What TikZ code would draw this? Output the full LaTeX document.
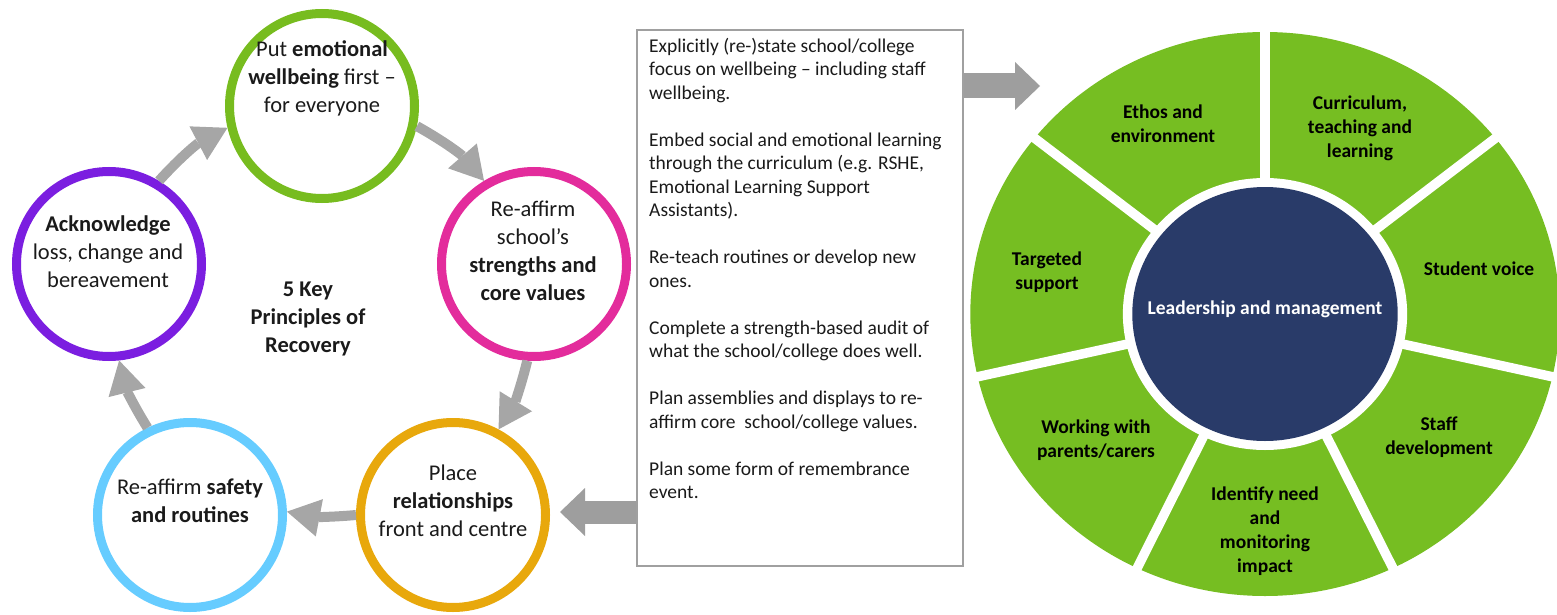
\documentclass[tikz,border=0pt]{standalone}
\usepackage{fontspec}
\setmainfont{Carlito}
\usetikzlibrary{arrows.meta}
\definecolor{cgreen}{HTML}{77BC1F}
\definecolor{cpink}{HTML}{E32C9C}
\definecolor{corange}{HTML}{E8A80C}
\definecolor{ccyan}{HTML}{66CCFF}
\definecolor{cpurple}{HTML}{7B1EE0}
\definecolor{wgreen}{HTML}{76BE22}
\definecolor{navy}{HTML}{293B69}
\definecolor{arrgray}{HTML}{A6A6A6}
\definecolor{blkgray}{HTML}{9E9E9E}
\definecolor{boxline}{HTML}{A0A0A0}
\definecolor{txt}{HTML}{1A1A1A}
\begin{document}
\begin{tikzpicture}[x=1pt,y=1pt,
  ring/.style={circle, draw=#1, line width=9pt, minimum size=185pt, inner sep=0pt},
  ctext/.style={align=center, text=txt, font=\fontsize{22.5}{28}\selectfont, inner sep=0pt,
    execute at begin node=\strut, execute at end node=\strut},
  wtext/.style={align=center, text=black, font=\fontsize{19.5}{24}\selectfont\bfseries, inner sep=0pt,
    execute at begin node=\strut, execute at end node=\strut},
  btext/.style={align=left, text=txt, font=\fontsize{19.5}{23.5}\selectfont, inner sep=0pt,
    anchor=north west, execute at begin node=\strut},
  cyc/.style={line width=10pt, draw=arrgray, -{Triangle[length=33pt, width=38pt, line width=0pt]}},
  blk/.style={line width=#1, draw=blkgray, -{Triangle[length=25pt, width=48pt, line width=0pt]}},
]
\useasboundingbox (0,0) rectangle (1557,-615);

% ---------- wheel ----------
\begin{scope}[shift={(1265,-314)}, xscale=1.045]
  \fill[wgreen] (0,0) circle (282);
  \fill[white] (0,0) circle (136);
  \foreach \k in {0,...,6}
    \draw[white, line width=9.5pt] (90+\k*360/7:120) -- (90+\k*360/7:292);
  \fill[navy] (0,0) circle (127);
\end{scope}
\node[wtext, text=white] (lead) at (1265,-310) {Leadership and management};
\node[wtext] (ethos) at (1163,-127) {Ethos and\\environment};
\node[wtext] (curr) at (1360,-130) {Curriculum,\\teaching and\\learning};
\node[wtext] (voice) at (1479,-271) {Student voice};
\node[wtext] (staff) at (1439,-439.5) {Staff\\development};
\node[wtext] (ident) at (1265,-533.5) {Identify need\\and\\monitoring\\impact};
\node[wtext] (work) at (1096,-442.5) {Working with\\parents/carers};
\node[wtext] (target) at (1047,-274) {Targeted\\support};

% ---------- cycle ----------
\node[ring=cgreen] (green) at (322,-106) {};
\node[ring=cpink] (pink) at (534,-264) {};
\node[ring=corange] (orange) at (453,-515) {};
\node[ring=ccyan] (cyan) at (190,-515) {};
\node[ring=cpurple] (purple) at (109,-264) {};

\node[ctext] (greent) at (322,-81) {Put \textbf{emotional}\\\textbf{wellbeing} first –\\for everyone};
\node[ctext] (pinkt) at (533,-254.5) {Re-affirm\\school’s\\\textbf{strengths and}\\\textbf{core values}};
\node[ctext] (oranget) at (453,-505) {Place\\\textbf{relationships}\\front and centre};
\node[ctext] (cyant) at (190,-504.5) {Re-affirm \textbf{safety}\\\textbf{and routines}};
\node[ctext] (purplet) at (108,-256) {\textbf{Acknowledge}\\loss, change and\\bereavement};
\node[ctext, font=\fontsize{22.5}{28}\selectfont\bfseries] (title) at (308,-321) {5 Key\\Principles of\\Recovery};

\draw[cyc] (green.-12) to[bend left=10] (pink.121);
\draw[cyc] (pink.-94) to[bend left=9] (orange.62);
\draw[cyc] (orange.west) to[bend left=8] (cyan.2);
\draw[cyc] (cyan.116) to[bend left=9] (purple.-84);
\draw[cyc] (purple.59) to[bend left=10] (green.-167);

% ---------- text box ----------
\node[draw=boxline, line width=1.2pt, anchor=north west, minimum width=325pt, minimum height=535pt, inner sep=0pt] (box) at (637,-30) {};
\coordinate (rtip) at (1040,-86);
\coordinate (ltip) at (560,-512);
\draw[blk=25pt] (box.east |- rtip) -- (rtip);
\draw[blk=23pt] (box.west |- ltip) -- (ltip);
\draw[boxline, line width=1.2pt] (box.north west) rectangle (box.south east);

\node[btext] (boxt) at (649,-38) {Explicitly (re-)state school/college\\
focus on wellbeing – including staff\\
wellbeing.\\[23.5pt]
Embed social and emotional learning\\
through the curriculum (e.g. RSHE,\\
Emotional Learning Support\\
Assistants).\\[23.5pt]
Re-teach routines or develop new\\
ones.\\[23.5pt]
Complete a strength-based audit of\\
what the school/college does well.\\[23.5pt]
Plan assemblies and displays to re-\\
affirm core\ \ school/college values.\\[23.5pt]
Plan some form of remembrance\\
event.};
\end{tikzpicture}
\end{document}
